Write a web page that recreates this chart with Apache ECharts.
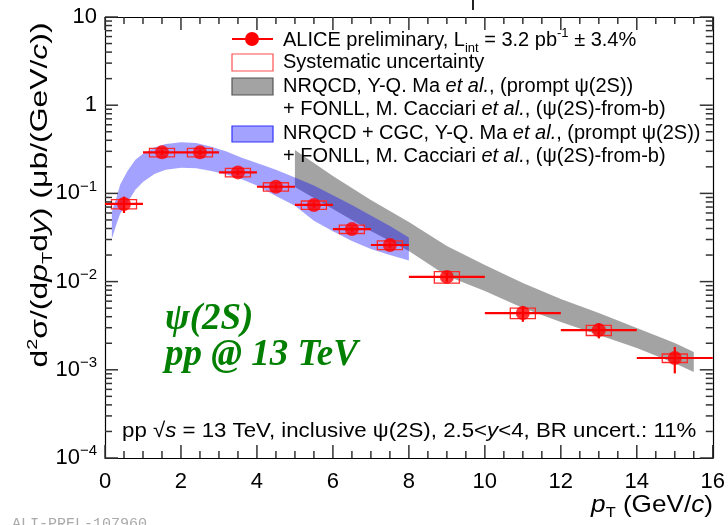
<!DOCTYPE html>
<html>
<head>
<meta charset="utf-8">
<script src="https://cdn.jsdelivr.net/npm/echarts@6/dist/echarts.min.js"></script>
<style>
html, body { margin: 0; padding: 0; background: #fff; }
#main { width: 728px; height: 525px; }
</style>
</head>
<body>
<div id="main"></div>
<script>
// ALICE psi(2S) pT-differential cross section, pp 13 TeV
var ptBins   = [0.5, 1.5, 2.5, 3.5, 4.5, 5.5, 6.5, 7.5, 9, 11, 13, 15];
var binHalf  = [0.5, 0.5, 0.5, 0.5, 0.5, 0.5, 0.5, 0.5, 1, 1, 1, 1];
var xsec     = [0.0759, 0.292, 0.292, 0.173, 0.119, 0.074, 0.0394, 0.026, 0.0113, 0.0044, 0.00282, 0.00136];
var statErr  = [0.016, 0.02, 0.02, 0.012, 0.008, 0.005, 0.0025, 0.0017, 0.0013, 0.0009, 0.00055, 0.00045];
var sysErr   = [0.009, 0.032, 0.032, 0.019, 0.013, 0.008, 0.0043, 0.0029, 0.0017, 0.0006, 0.00037, 0.00015];

// NRQCD + CGC band (prompt) + FONLL
var cgcPt    = [0.18, 0.2, 0.3, 0.4, 0.6, 0.8, 1.0, 1.3, 1.6, 2.0, 2.4, 2.8, 3.2, 3.6, 4.0, 4.5, 5.0, 5.5, 6.0, 6.5, 7.0, 7.5, 8.0];
var cgcHigh  = [0.0617, 0.0661, 0.0891, 0.126, 0.182, 0.240, 0.282, 0.331, 0.363, 0.380, 0.372, 0.339, 0.299, 0.254, 0.221, 0.186, 0.151, 0.123, 0.0955, 0.0741, 0.0562, 0.0427, 0.0316];
var cgcLow   = [0.0309, 0.0324, 0.0447, 0.0589, 0.0794, 0.110, 0.135, 0.166, 0.186, 0.195, 0.193, 0.180, 0.164, 0.145, 0.123, 0.0933, 0.0724, 0.0490, 0.0372, 0.0288, 0.0234, 0.0200, 0.0174];

// NRQCD band (prompt) + FONLL
var nrqcdPt   = [5.0, 5.5, 6.0, 6.5, 7.0, 7.5, 8.0, 9.0, 10, 11, 12, 13, 14, 15, 15.5];
var nrqcdHigh = [0.310, 0.221, 0.157, 0.115, 0.0841, 0.0631, 0.0474, 0.0254, 0.0154, 0.00963, 0.00636, 0.00441, 0.00298, 0.00201, 0.00159];
var nrqcdLow  = [0.118, 0.0887, 0.0665, 0.0499, 0.0375, 0.0289, 0.0222, 0.01156, 0.00782, 0.00502, 0.00348, 0.00248, 0.00177, 0.00119, 0.000944];

// axis tick values
var xMajor = [0, 2, 4, 6, 8, 10, 12, 14, 16];
var xMinor = [0.5, 1, 1.5, 2.5, 3, 3.5, 4.5, 5, 5.5, 6.5, 7, 7.5, 8.5, 9, 9.5, 10.5, 11, 11.5, 12.5, 13, 13.5, 14.5, 15, 15.5];
var yMajor = [1e-4, 1e-3, 1e-2, 1e-1, 1, 10];
var yMinorMult = [2, 3, 4, 5, 6, 7, 8, 9];

var FONT = 'Liberation Sans, Arial, Helvetica, sans-serif';
var SERIF = 'Liberation Serif, Times New Roman, serif';
var myChart = echarts.init(document.getElementById('main'));

function bandRenderer(xs, hi, lo, fill) {
  return function (params, api) {
    if (params.dataIndex !== 0) return null;
    var pts = [];
    for (var i = 0; i < xs.length; i++) pts.push(api.coord([xs[i], hi[i]]));
    for (var j = xs.length - 1; j >= 0; j--) pts.push(api.coord([xs[j], lo[j]]));
    return { type: 'polygon', shape: { points: pts }, style: { fill: fill } };
  };
}

function seg(a, b, color, w) {
  return { type: 'line', shape: { x1: a[0], y1: a[1], x2: b[0], y2: b[1] }, style: { stroke: color, lineWidth: w } };
}

// ROOT-style frame ticks on four sides, placed through the axis scales
function frameTicks(api) {
  var out = [];
  function xt(v, len) {
    var b = api.coord([v, 1e-4]), t = api.coord([v, 10]);
    out.push(seg(b, [b[0], b[1] - len], '#333', 1.5));
    out.push(seg(t, [t[0], t[1] + len], '#333', 1.5));
  }
  function yt(v, len) {
    var l = api.coord([0, v]), r = api.coord([16, v]);
    out.push(seg(l, [l[0] + len, l[1]], '#333', 1.5));
    out.push(seg(r, [r[0] - len, r[1]], '#333', 1.5));
  }
  xMajor.forEach(function (v) { xt(v, 13); });
  xMinor.forEach(function (v) { xt(v, 7); });
  yMajor.forEach(function (v) {
    yt(v, 13);
    if (v < 10) yMinorMult.forEach(function (m) { yt(m * v, 7); });
  });
  return out;
}

function pointRenderer(params, api) {
  var x = api.value(0), y = api.value(1), hw = api.value(2), st = api.value(3), sy = api.value(4);
  var l = api.coord([x - hw, y]), r = api.coord([x + hw, y]);
  var up = api.coord([x, y + st]), dn = api.coord([x, y - st]);
  var b1 = api.coord([x - 0.33, y + sy]), b2 = api.coord([x + 0.33, y - sy]);
  var children = [
    { type: 'rect', shape: { x: b1[0], y: b1[1], width: b2[0] - b1[0], height: b2[1] - b1[1] },
      style: { fill: 'none', stroke: '#ff2a2a', lineWidth: 1.3 } },
    seg(l, r, '#ff0000', 2.2),
    seg(up, dn, '#ff0000', 2.2)
  ];
  if (params.dataIndex === 0) children = children.concat(frameTicks(api));
  return { type: 'group', children: children };
}

var supRich = {
  b: { fontSize: 22, fontFamily: FONT, color: '#000' },
  s: { fontSize: 15, fontFamily: FONT, color: '#000', padding: [0, 0, 14, 0] }
};

var xAxisBase = {
  type: 'value', min: 0, max: 16, interval: 2,
  axisLine: { show: true, onZero: false, lineStyle: { color: '#000', width: 1.2 } },
  axisTick: { show: false },
  splitLine: { show: false }
};
var yAxisBase = {
  type: 'log', logBase: 10, min: 1e-4, max: 10,
  axisLine: { show: true, onZero: false, lineStyle: { color: '#000', width: 1.2 } },
  axisTick: { show: false },
  splitLine: { show: false }
};

var richTxt = { a: { fontSize: 20, fontFamily: FONT }, i: { fontSize: 20, fontFamily: FONT, fontStyle: 'italic' } };

var option = {
  animation: false,
  backgroundColor: '#fff',
  grid: { left: 105, right: 14, top: 17, bottom: 67 },
  xAxis: [
    Object.assign({}, xAxisBase, {
      position: 'bottom',
      axisLabel: { fontSize: 22, fontFamily: FONT, color: '#000', margin: 13 }
    }),
    Object.assign({}, xAxisBase, { position: 'top', axisLabel: { show: false } })
  ],
  yAxis: [
    Object.assign({}, yAxisBase, {
      position: 'left',
      axisLabel: {
        margin: 8, color: '#000',
        formatter: function (v) {
          var e = Math.round(Math.log10(v));
          if (e === 1) return '{b|10}';
          if (e === 0) return '{b|1}';
          return '{b|10}{s|\u2212' + (-e) + '}';
        },
        rich: supRich
      }
    }),
    Object.assign({}, yAxisBase, { position: 'right', axisLabel: { show: false } })
  ],
  series: [
    {
      type: 'custom', name: 'NRQCD', silent: true, z: 1,
      renderItem: bandRenderer(nrqcdPt, nrqcdHigh, nrqcdLow, 'rgba(0,0,0,0.36)'),
      data: nrqcdPt.map(function (x, i) { return [x, nrqcdHigh[i]]; })
    },
    {
      type: 'custom', name: 'NRQCD+CGC', silent: true, z: 2,
      renderItem: bandRenderer(cgcPt, cgcHigh, cgcLow, 'rgba(0,0,255,0.36)'),
      data: cgcPt.map(function (x, i) { return [x, cgcHigh[i]]; })
    },
    {
      type: 'custom', name: 'errors', silent: true, z: 4,
      renderItem: pointRenderer,
      data: ptBins.map(function (x, i) { return [x, xsec[i], binHalf[i], statErr[i], sysErr[i]]; })
    },
    {
      type: 'scatter', name: 'ALICE', silent: true, z: 5,
      symbol: 'circle', symbolSize: 14,
      itemStyle: { color: '#ff0000' },
      data: ptBins.map(function (x, i) { return [x, xsec[i]]; })
    }
  ],
  graphic: [
    // legend
    { type: 'line', shape: { x1: 232, y1: 39, x2: 273, y2: 39 }, style: { stroke: '#ff0000', lineWidth: 2.2 } },
    { type: 'circle', shape: { cx: 252, cy: 39, r: 7 }, style: { fill: '#ff0000' } },
    { type: 'rect', shape: { x: 232, y: 54, width: 41, height: 17 }, style: { fill: '#fff', stroke: '#ff5050', lineWidth: 1.2 } },
    { type: 'rect', shape: { x: 232, y: 78, width: 41, height: 17 }, style: { fill: '#a3a3a3', stroke: '#555', lineWidth: 1.2 } },
    { type: 'rect', shape: { x: 232, y: 126, width: 41, height: 16 }, style: { fill: '#a3a3ff', stroke: '#3333ff', lineWidth: 1.2 } },
    {
      type: 'text', x: 283, y: 40,
      style: {
        text: '{a|ALICE preliminary, L}{sub|int}{a| = 3.2 pb}{sup|-1}{a| \u00b1 3.4%}',
        verticalAlign: 'middle', fill: '#000',
        rich: {
          a: { fontSize: 20, fontFamily: FONT },
          sub: { fontSize: 13, fontFamily: FONT, padding: [16, 0, 0, 0] },
          sup: { fontSize: 13, fontFamily: FONT, padding: [0, 0, 14, 0] }
        }
      }
    },
    { type: 'text', x: 283, y: 62, style: { text: 'Systematic uncertainty', fontSize: 20, fontFamily: FONT, fill: '#000', verticalAlign: 'middle' } },
    { type: 'text', x: 283, y: 86, style: { text: '{a|NRQCD, Y-Q. Ma }{i|et al.}{a|, (prompt \u03c8(2S))}', verticalAlign: 'middle', fill: '#000', rich: richTxt } },
    { type: 'text', x: 283, y: 109, style: { text: '{a|+ FONLL, M. Cacciari }{i|et al.}{a|, (\u03c8(2S)-from-b)}', verticalAlign: 'middle', fill: '#000', rich: richTxt } },
    { type: 'text', x: 283, y: 133, style: { text: '{a|NRQCD + CGC, Y-Q. Ma }{i|et al.}{a|, (prompt \u03c8(2S))}', verticalAlign: 'middle', fill: '#000', rich: richTxt } },
    { type: 'text', x: 283, y: 156, style: { text: '{a|+ FONLL, M. Cacciari }{i|et al.}{a|, (\u03c8(2S)-from-b)}', verticalAlign: 'middle', fill: '#000', rich: richTxt } },
    // green labels
    { type: 'text', x: 165, y: 319, style: { text: '\u03c8(2S)', fontSize: 37, fontFamily: SERIF, fontStyle: 'italic', fontWeight: 'bold', fill: '#007f00', verticalAlign: 'middle' } },
    { type: 'text', x: 165, y: 355, style: { text: 'pp @ 13 TeV', fontSize: 37, fontFamily: SERIF, fontStyle: 'italic', fontWeight: 'bold', fill: '#007f00', verticalAlign: 'middle' } },
    // bottom caption
    {
      type: 'text', x: 122, y: 431, scaleX: 1.06,
      style: {
        text: '{a|pp \u221a}{i|s}{a| = 13 TeV, inclusive \u03c8(2S), 2.5<}{i|y}{a|<4, BR uncert.: 11%}',
        verticalAlign: 'middle', fill: '#000',
        rich: { a: { fontSize: 21, fontFamily: FONT }, i: { fontSize: 21, fontFamily: FONT, fontStyle: 'italic' } }
      }
    },
    // axis titles
    {
      type: 'text', x: 713, y: 505, scaleX: 1.09,
      style: {
        text: '{i|p}{sub|T}{a| (GeV/}{i|c}{a|)}',
        align: 'right', verticalAlign: 'middle', fill: '#000',
        rich: {
          a: { fontSize: 24, fontFamily: FONT },
          i: { fontSize: 24, fontFamily: FONT, fontStyle: 'italic' },
          sub: { fontSize: 15, fontFamily: FONT, padding: [16, 0, 0, 0] }
        }
      }
    },
    {
      type: 'text', x: 40, y: 195, rotation: Math.PI / 2, scaleX: 1.33,
      style: {
        text: '{a|d}{sup|2}{a|\u03c3/(d}{i|p}{sub|T}{a|d}{i|y}{a|) (\u03bcb/(GeV/}{i|c}{a|))}',
        align: 'center', verticalAlign: 'middle', fill: '#000',
        rich: {
          a: { fontSize: 24, fontFamily: FONT },
          i: { fontSize: 24, fontFamily: FONT, fontStyle: 'italic' },
          sub: { fontSize: 15, fontFamily: FONT, padding: [16, 0, 0, 0] },
          sup: { fontSize: 15, fontFamily: FONT, padding: [0, 0, 14, 0] }
        }
      }
    },
    // preliminary tag and clipped title stroke
    { type: 'text', x: 12, y: 517, style: { text: 'ALI-PREL-107960', fontSize: 15, fontFamily: 'Liberation Mono, Courier New, monospace', fill: '#aaaaaa', verticalAlign: 'top' } },
    { type: 'line', shape: { x1: 473, y1: 0, x2: 473, y2: 10 }, style: { stroke: '#222', lineWidth: 2 } }
  ]
};

myChart.setOption(option);
</script>
</body>
</html>
